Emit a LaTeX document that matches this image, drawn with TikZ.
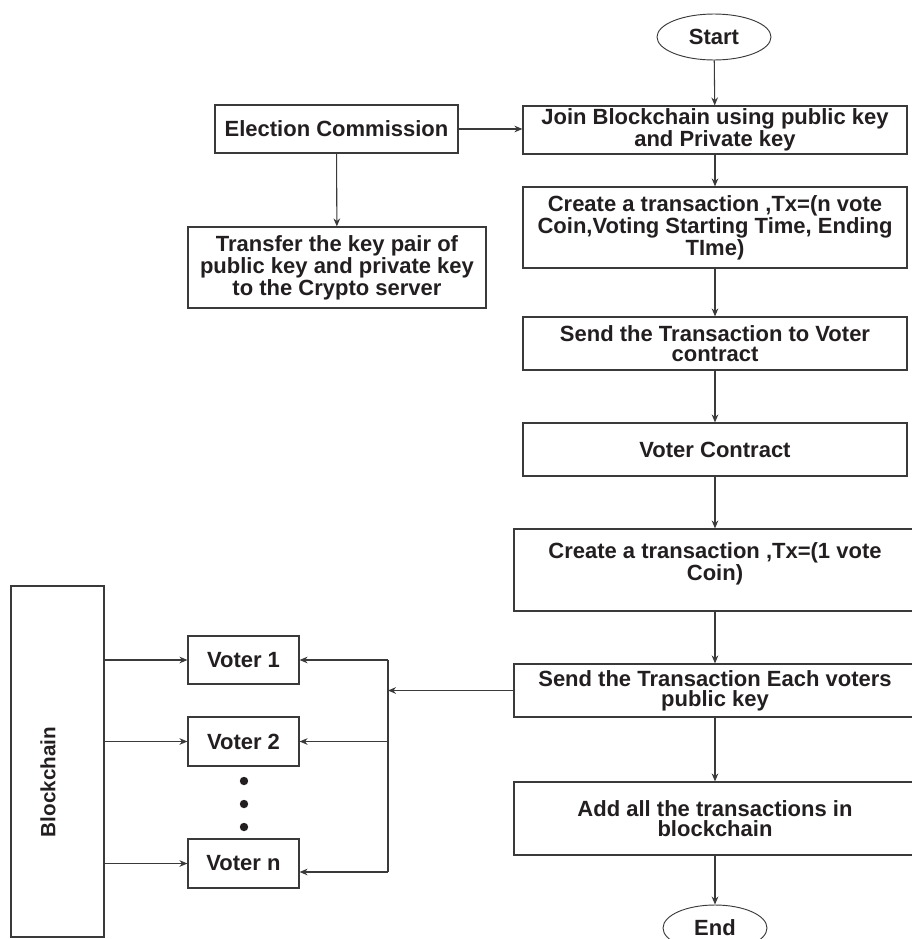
\documentclass[tikz,border=0pt]{standalone}
\usepackage{fontspec}
\setmainfont{Liberation Sans}
\usetikzlibrary{arrows.meta,shapes.geometric}
\definecolor{ink}{HTML}{231F20}
\definecolor{wire}{HTML}{3A3A3A}
\begin{document}
\begin{tikzpicture}[x=0.75pt,y=-0.75pt,
  font=\fontsize{16.5}{15.2}\selectfont\bfseries,
  every node/.style={text=ink},
  box/.style={draw=wire, line width=0.9pt, rectangle, inner sep=0pt, align=center},
  oval/.style={draw=wire, line width=0.7pt, ellipse, inner sep=0pt},
  flow/.style={draw=wire, line width=0.8pt, -{Stealth[length=6pt,width=5pt]}},
  wireline/.style={draw=wire, line width=0.8pt}]
\useasboundingbox (0,0) rectangle (912,939);

% main flow column
\node[oval, minimum width=114*0.75pt, minimum height=46*0.75pt] (start) at (714,37) {Start};
\node[box, minimum width=384*0.75pt, minimum height=48*0.75pt] (join) at (715,130)
  {Join Blockchain using public key\\and Private key};
\node[box, minimum width=384*0.75pt, minimum height=81*0.75pt] (txn) at (715,227.5)
  {Create a transaction ,Tx=(n vote\\Coin,Voting Starting Time, Ending\\TIme)};
\node[box, minimum width=384*0.75pt, minimum height=53*0.75pt] (sendv) at (715,343.5)
  {Send the Transaction to Voter\\contract};
\node[box, minimum width=384*0.75pt, minimum height=53*0.75pt] (vc) at (715,449.5)
  {Voter Contract};
\node[box, minimum width=402*0.75pt, minimum height=82*0.75pt] (tx1) at (715,570) {};
\node[align=center] (tx1text) at (715,564)
  {Create a transaction ,Tx=(1 vote\\Coin)};
\node[box, minimum width=402*0.75pt, minimum height=53*0.75pt] (sendeach) at (715,690.5)
  {Send the Transaction Each voters\\public key};
\node[box, minimum width=402*0.75pt, minimum height=73*0.75pt] (addall) at (715,818.5)
  {Add all the transactions in\\blockchain};
\node[oval, minimum width=104*0.75pt, minimum height=46*0.75pt] (finish) at (715,928) {End};

% election commission branch
\node[box, minimum width=243*0.75pt, minimum height=48*0.75pt] (ec) at (336.5,129)
  {Election Commission};
\node[box, minimum width=298*0.75pt, minimum height=81*0.75pt] (transfer) at (337,267.5)
  {Transfer the key pair of\\public key and private key\\to the Crypto server};

% blockchain and voters
\node[box, minimum width=93*0.75pt, minimum height=351*0.75pt] (bc) at (57.5,761.5) {};
\node[rotate=90, font=\fontsize{15.5}{15}\selectfont\bfseries] (bclabel) at (48,782) {Blockchain};
\node[box, minimum width=111*0.75pt, minimum height=48*0.75pt] (v1) at (243.5,660) {Voter 1};
\node[box, minimum width=111*0.75pt, minimum height=49*0.75pt] (v2) at (243.5,741.5) {Voter 2};
\node[box, minimum width=111*0.75pt, minimum height=49*0.75pt] (vn) at (243.5,863.5) {Voter n};

\foreach \yy in {781,804,827} \fill[ink] (244,\yy) circle (4.2*0.75pt);

% distribution bus
\coordinate (busA) at (388,660);
\coordinate (busB) at (388,741.5);
\coordinate (busIn) at (388,690.5);
\coordinate (busN) at (388,872);

% connectors of the main flow
\draw[flow] (start) -- (join);
\draw[flow] (join) -- (txn);
\draw[flow] (txn) -- (sendv);
\draw[flow] (sendv) -- (vc);
\draw[flow] (vc) -- (tx1);
\draw[flow] (tx1) -- (sendeach);
\draw[flow] (sendeach) -- (addall);
\draw[flow] (addall) -- (finish);

\draw[flow] (ec.east) -- (ec.east -| join.west);
\draw[flow] (ec) -- (transfer);

\draw[flow] (v1.west -| bc.east) -- (v1.west);
\draw[flow] (v2.west -| bc.east) -- (v2.west);
\draw[flow] (vn.west -| bc.east) -- (vn.west);

\draw[wireline] (busA) -- (busN);
\draw[flow] (sendeach.west) -- (busIn);
\draw[flow] (busA) -- (v1.east);
\draw[flow] (busB) -- (v2.east);
\draw[flow] (busN) -- (busN -| vn.east);
\end{tikzpicture}
\end{document}
